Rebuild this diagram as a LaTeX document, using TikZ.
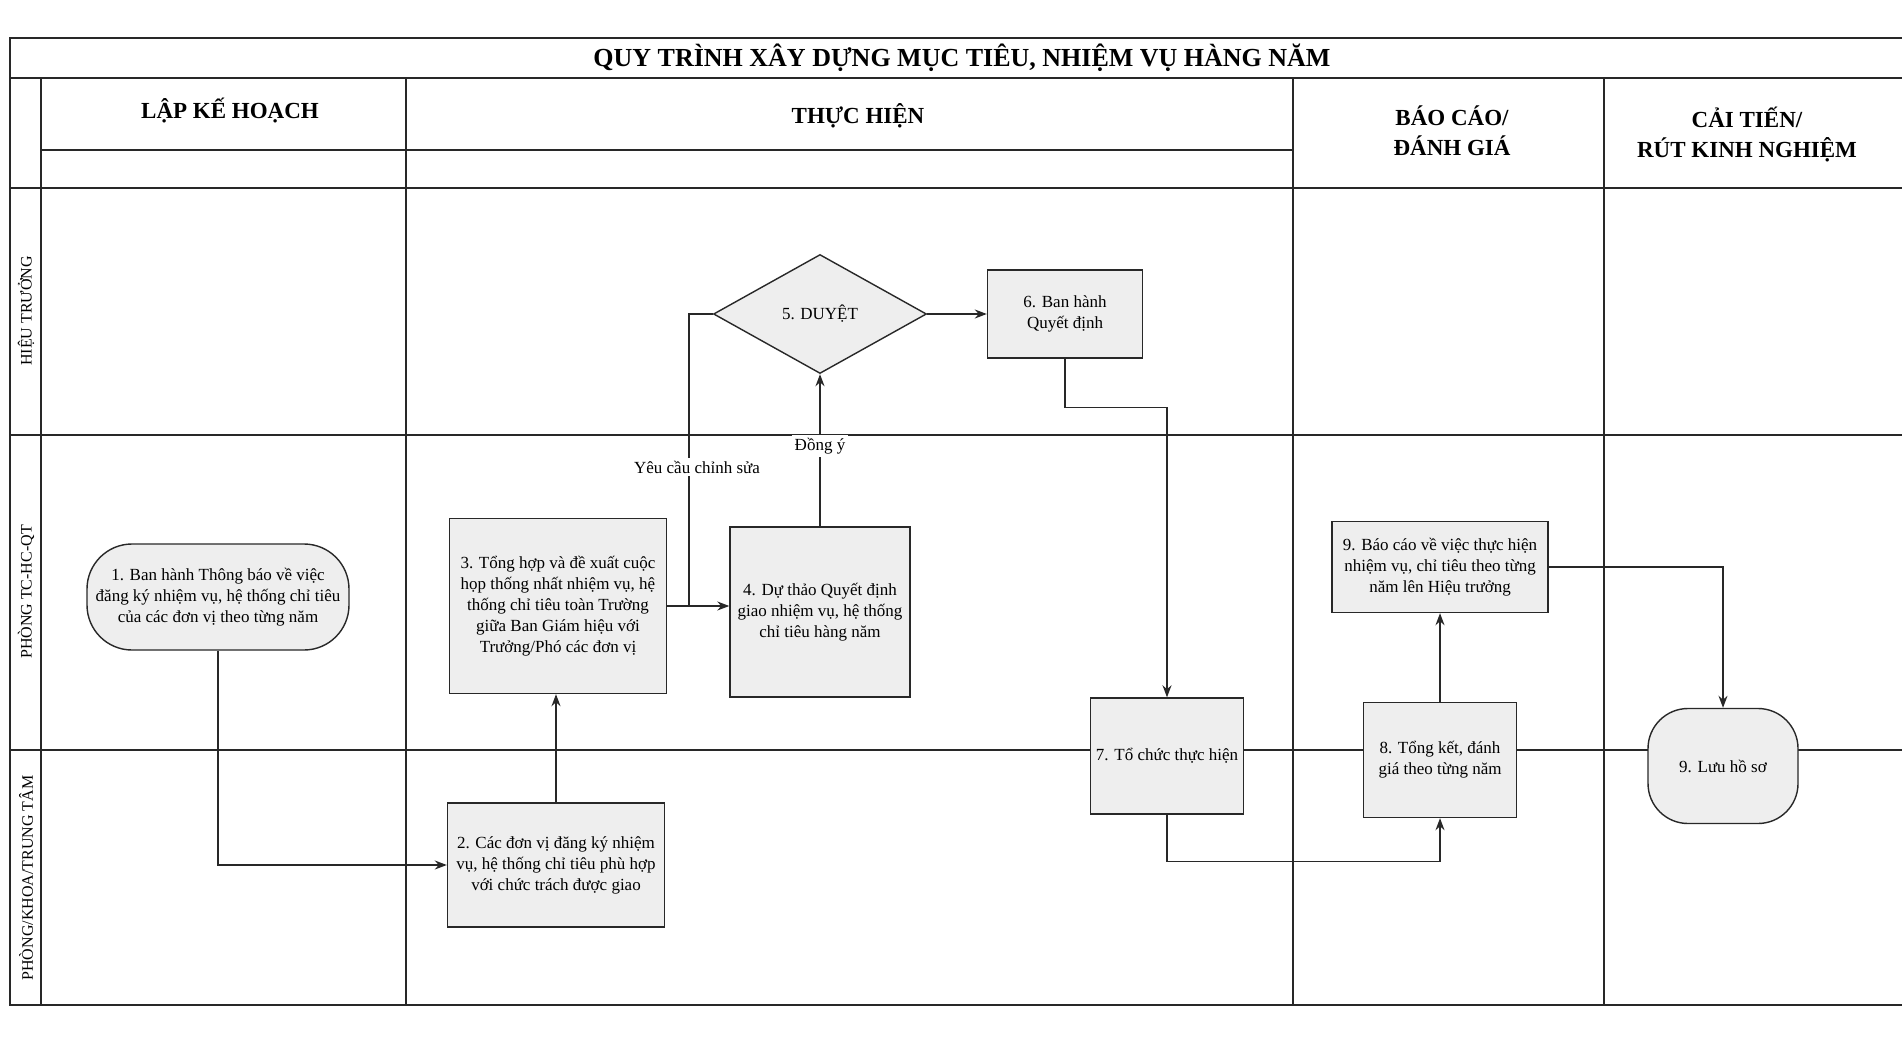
\documentclass[tikz,border=0pt]{standalone}
\usepackage{fontspec}
\setmainfont{Liberation Serif}
\usetikzlibrary{shapes.geometric, arrows.meta, positioning}
\definecolor{netve}{RGB}{40,40,40}
\definecolor{nenhop}{RGB}{238,238,238}
\tikzset{
  hop/.style={rectangle, draw=netve, fill=nenhop, line width=1.4pt, align=center, font=\fontsize{17}{21}\selectfont, inner sep=4pt},
  hopbo/.style={hop, rounded corners=45pt},
  thoi/.style={diamond, aspect=1.8, draw=netve, fill=nenhop, line width=1.4pt, font=\fontsize{17}{21}\selectfont, inner sep=0pt, minimum width=213pt, minimum height=119pt},
  nhan/.style={fill=white, font=\fontsize{17}{20}\selectfont, inner sep=3pt},
  tieude/.style={font=\fontsize{23}{30}\selectfont\bfseries, align=center},
  lan/.style={rotate=90, font=\fontsize{16}{19}\selectfont},
  luoi/.style={line width=1.8pt, draw=netve},
  duong/.style={line width=1.4pt, color=netve},
  arrow/.style={duong, ->, >={Stealth[length=12pt,width=9pt]}}
}
\begin{document}
\begin{tikzpicture}[x=1pt, y=-1pt]
  \useasboundingbox (0,0) rectangle (1902,1043);
  \fill [white] (0,0) rectangle (1902,1043);
  % khung va lan
  \draw [luoi] (1902,38) -- (10,38) -- (10,1005) -- (1902,1005);
  \draw [luoi] (10,78) -- (1902,78);
  \draw [luoi] (41,150) -- (1293,150);
  \draw [luoi] (10,188) -- (1902,188);
  \draw [luoi] (10,435) -- (1902,435);
  \draw [luoi] (10,750) -- (1902,750);
  \foreach \x in {41,406,1293,1604} \draw [luoi] (\x,78) -- (\x,1005);
  % tieu de
  \node (td) [font=\fontsize{26}{30}\selectfont\bfseries] at (962,58) {QUY TRÌNH XÂY DỰNG MỤC TIÊU, NHIỆM VỤ HÀNG NĂM};
  \node (c1) [tieude] at (230,111) {LẬP KẾ HOẠCH};
  \node (c2) [tieude] at (858,116) {THỰC HIỆN};
  \node (c3) [tieude] at (1452,131) {BÁO CÁO/\\ ĐÁNH GIÁ};
  \node (c4) [tieude] at (1747,135) {CẢI TIẾN/\\ RÚT KINH NGHIỆM};
  \node (l1) [lan] at (26,311) {HIỆU TRƯỞNG};
  \node (l2) [lan] at (26,592) {PHÒNG TC-HC-QT};
  \node (l3) [lan] at (26,878) {PHÒNG/KHOA/TRUNG TÂM};
  % cac buoc
  \node (b1) [hopbo, minimum width=262pt, minimum height=106pt] at (218,597) {1. Ban hành Thông báo về việc\\ đăng ký nhiệm vụ, hệ thống chỉ tiêu\\ của các đơn vị theo từng năm};
  \node (b2) [hop, minimum width=217pt, minimum height=124pt] at (556,865) {2. Các đơn vị đăng ký nhiệm\\ vụ, hệ thống chỉ tiêu phù hợp\\ với chức trách được giao};
  \node (b3) [hop, minimum width=217pt, minimum height=175pt] at (558,606) {3. Tổng hợp và đề xuất cuộc\\ họp thống nhất nhiệm vụ, hệ\\ thống chỉ tiêu toàn Trường\\ giữa Ban Giám hiệu với\\ Trưởng/Phó các đơn vị};
  \node (b4) [hop, minimum width=180pt, minimum height=170pt] at (820,612) {4. Dự thảo Quyết định\\ giao nhiệm vụ, hệ thống\\ chỉ tiêu hàng năm};
  \node (d5) [thoi] at (820,314) {5. DUYỆT};
  \node (b6) [hop, minimum width=155pt, minimum height=88pt] at (1065,314) {6. Ban hành\\ Quyết định};
  \node (b7) [hop, minimum width=153pt, minimum height=116pt] at (1167,756) {7. Tổ chức thực hiện};
  \node (b8) [hop, minimum width=153pt, minimum height=115pt] at (1440,760) {8. Tổng kết, đánh\\ giá theo từng năm};
  \node (b9) [hop, minimum width=216pt, minimum height=91pt] at (1440,567) {9. Báo cáo về việc thực hiện\\ nhiệm vụ, chỉ tiêu theo từng\\ năm lên Hiệu trưởng};
  \node (b10) [hop, rounded corners=40pt, minimum width=150pt, minimum height=115pt] at (1723,766) {9. Lưu hồ sơ};
  % mui ten
  \draw [arrow] (b1.south) |- (b2.west);
  \draw [arrow] (b2.north) -- (b2.north |- b3.south);
  \draw [arrow] (b3.east) -- (b3.east -| b4.west);
  \coordinate (sua) at (689,606);
  \draw [duong] (d5.west) -| (sua);
  \draw [arrow] (b4.north) -- (d5.south);
  \draw [arrow] (d5.east) -- (b6.west);
  \draw [arrow] (b6.south) -- ++(0,49) -| (b7.north);
  \draw [arrow] (b7.south) -- ++(0,47) -| (b8.south);
  \draw [arrow] (b8.north) -- (b9.south);
  \draw [arrow] (b9.east) -| (b10.north);
  \node (ycs) [nhan] at (697,467) {Yêu cầu chỉnh sửa};
  \node (dy) [nhan] at (820,446) {Đồng ý};
\end{tikzpicture}
\end{document}
